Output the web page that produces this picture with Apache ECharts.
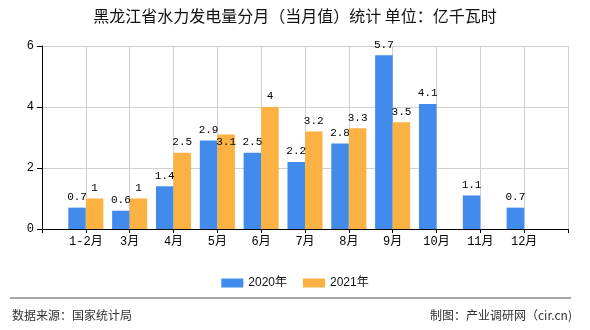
<!DOCTYPE html>
<html>
<head>
<meta charset="utf-8">
<script src="https://cdn.jsdelivr.net/npm/echarts@6/dist/echarts.min.js"></script>
<style>
html,body{margin:0;padding:0;background:#fff;}
#chart{width:590px;height:330px;}
</style>
</head>
<body>
<div id="chart"></div>
<script>
const titleText = '黑龙江省水力发电量分月（当月值）统计 单位：亿千瓦时';
const categories = ['1-2月','3月','4月','5月','6月','7月','8月','9月','10月','11月','12月'];
const seriesNames = ['2020年','2021年'];
const values2020 = [0.7,0.6,1.4,2.9,2.5,2.2,2.8,5.7,4.1,1.1,0.7];
const values2021 = [1,1,2.5,3.1,4,3.2,3.3,3.5,null,null,null];
const yTicks = [0,2,4,6];
const sourceText = '数据来源：国家统计局';
const makerText = '制图：产业调研网（cir.cn)';

const chart = echarts.init(document.getElementById('chart'));
const padCats = [''].concat(categories, ['']);
const pad = arr => [null].concat(arr, [null]);
const monoFont = '"Liberation Mono","Noto Sans CJK SC",monospace';
const d2021 = pad(values2021).map((v, i) => (i === 4 ? {value: v, label: {position: 'insideTop', distance: 2}} : v));

chart.setOption({
  animation: false,
  title: {
    text: titleText,
    left: 'center',
    top: 8,
    padding: 0,
    textStyle: {fontSize: 16, fontWeight: 'normal', color: '#111', fontFamily: '"Noto Sans CJK SC",sans-serif'}
  },
  legend: {
    top: 272,
    left: 'center',
    itemWidth: 22,
    itemHeight: 9,
    itemGap: 16,
    icon: 'rect',
    textStyle: {fontSize: 12, color: '#111', fontFamily: '"Liberation Sans","Noto Sans CJK SC",sans-serif'},
    data: seriesNames
  },
  grid: {left: 42, right: 22, top: 46, bottom: 101, containLabel: false},
  xAxis: {
    type: 'category',
    data: padCats,
    boundaryGap: false,
    axisLine: {lineStyle: {color: '#000', width: 1}},
    axisTick: {show: true, interval: 0, length: 4, lineStyle: {color: '#000'}},
    axisLabel: {interval: 0, margin: 7, fontSize: 12, color: '#000', fontFamily: monoFont},
    splitLine: {show: true, interval: 0, lineStyle: {color: '#d0d0d0', width: 1}}
  },
  yAxis: {
    type: 'value',
    min: yTicks[0],
    max: yTicks[yTicks.length - 1],
    interval: 2,
    axisLine: {show: true, lineStyle: {color: '#000', width: 1}},
    axisTick: {show: true, length: 5, lineStyle: {color: '#000'}},
    axisLabel: {margin: 8, fontSize: 12, color: '#000', fontFamily: monoFont},
    splitLine: {show: true, lineStyle: {color: '#d0d0d0', width: 1}}
  },
  series: [
    {
      name: seriesNames[0],
      type: 'bar',
      data: pad(values2020),
      barWidth: '40%',
      barGap: '0%',
      itemStyle: {color: '#418bed'},
      label: {show: true, position: 'top', distance: 5, fontSize: 11, color: '#000', fontFamily: monoFont}
    },
    {
      name: seriesNames[1],
      type: 'bar',
      data: d2021,
      barWidth: '40%',
      barGap: '0%',
      itemStyle: {color: '#fbb243'},
      label: {show: true, position: 'top', distance: 5, fontSize: 11, color: '#000', fontFamily: monoFont}
    }
  ],
  graphic: [
    {type: 'line', shape: {x1: 10, y1: 298, x2: 571, y2: 298}, style: {stroke: '#888', lineWidth: 1.5}},
    {type: 'text', left: 12, top: 309, style: {text: sourceText, fontSize: 12, fill: '#333', fontFamily: '"Noto Sans CJK SC",sans-serif'}},
    {type: 'text', right: 18, top: 309, style: {text: makerText, fontSize: 12, fill: '#333', fontFamily: '"Noto Sans CJK SC",sans-serif'}}
  ]
});
</script>
</body>
</html>
